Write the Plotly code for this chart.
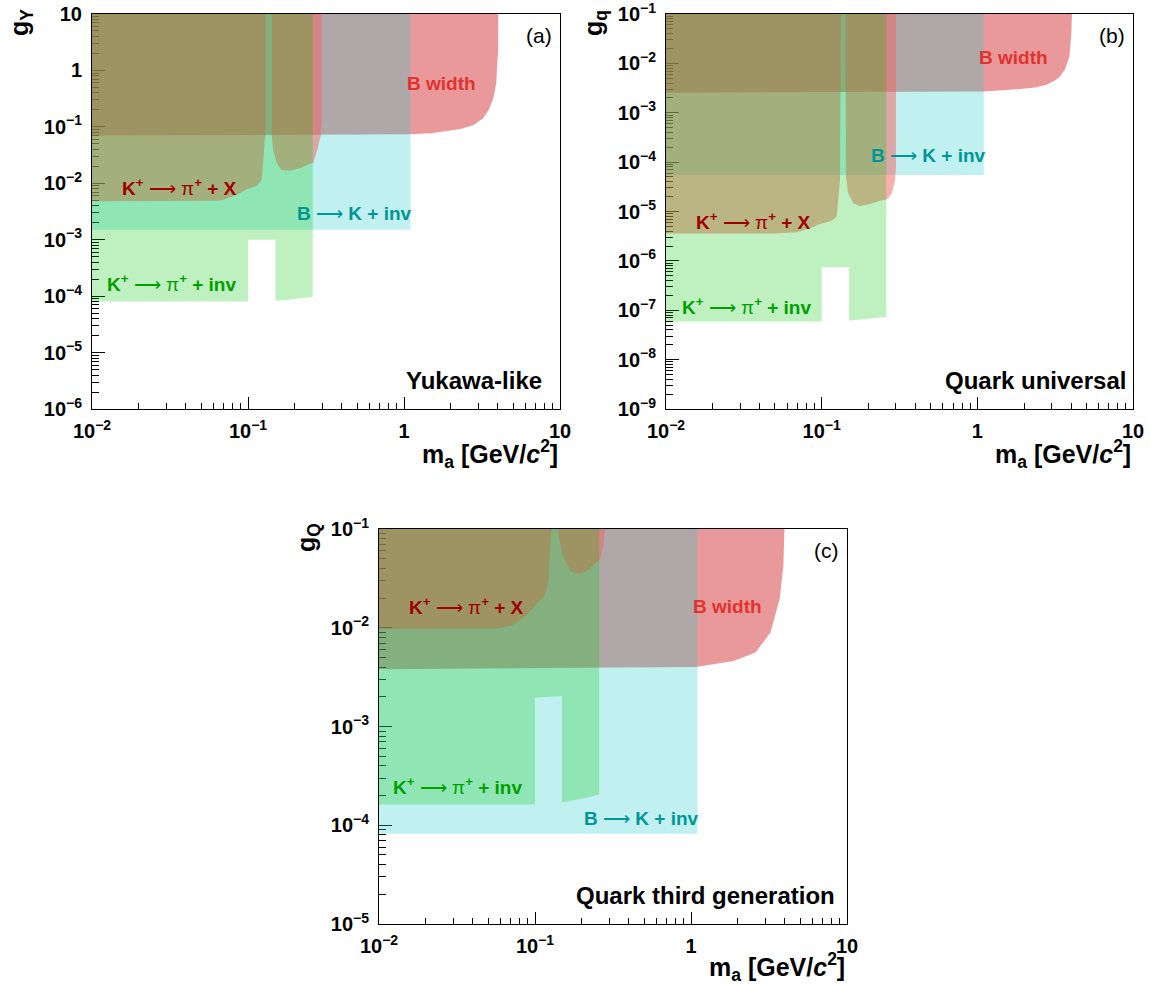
import plotly.graph_objects as go

# ---------------- panel (a): Yukawa-like, g_Y ----------------
a_bwidth_m = [0.01, 1.1, 1.5, 1.8, 2.3, 2.8, 3.2, 3.5, 3.75, 3.9, 3.98, 4.01, 4.02]
a_bwidth_g = [0.070, 0.074, 0.077, 0.082, 0.092, 0.108, 0.14, 0.20, 0.33, 0.59, 1.2, 2.3, 10]
a_bk_m = [0.01, 1.1]
a_bk_g = [1.5e-3, 10]
a_kx_left_m = [0.01, 0.04, 0.064, 0.0695, 0.0845, 0.098, 0.114, 0.1225, 0.1254, 0.1275, 0.13]
a_kx_left_g = [4.8e-3, 4.8e-3, 4.9e-3, 5.1e-3, 6.2e-3, 7.8e-3, 9.0e-3, 0.0114, 0.026, 0.058, 0.10]
a_kx_right_m = [0.142, 0.142, 0.145, 0.153, 0.164, 0.186, 0.215, 0.244, 0.262, 0.278, 0.292, 0.297]
a_kx_right_g = [10, 0.069, 0.039, 0.0226, 0.0172, 0.0167, 0.0184, 0.022, 0.0232, 0.0389, 0.069, 0.12]
a_kinv_m = [0.01, 0.1, 0.1, 0.15, 0.15, 0.2, 0.26]
a_kinv_g = [8.0e-5, 8.0e-5, 1.0e-3, 1.0e-3, 8.3e-5, 8.9e-5, 9.8e-5]

# ---------------- panel (b): quark universal, g_q ----------------
b_bwidth_m = [0.01, 1.1, 1.79, 2.3, 2.75, 3.15, 3.4, 3.65, 3.9, 4.02, 4.05]
b_bwidth_g = [2.55e-3, 2.7e-3, 2.98e-3, 3.2e-3, 3.65e-3, 4.5e-3, 5.4e-3, 7.5e-3, 0.0136, 0.041, 0.1]
b_bk_m = [0.01, 1.1]
b_bk_g = [5.5e-5, 0.1]
b_kx_left_m = [0.01, 0.05, 0.0691, 0.0841, 0.0975, 0.116, 0.125, 0.128, 0.1311, 0.133]
b_kx_left_g = [3.6e-6, 3.6e-6, 3.8e-6, 4.57e-6, 5.6e-6, 6.5e-6, 7.9e-6, 1.7e-5, 4.3e-5, 0.1]
b_kx_right_m = [0.142, 0.142, 0.1433, 0.148, 0.1597, 0.176, 0.204, 0.237, 0.264, 0.282, 0.296, 0.300]
b_kx_right_g = [0.1, 8.0e-5, 5.07e-5, 2.33e-5, 1.47e-5, 1.29e-5, 1.42e-5, 1.66e-5, 1.77e-5, 2.33e-5, 4.3e-5, 8.1e-5]
b_kinv_m = [0.01, 0.1, 0.1, 0.15, 0.15, 0.2, 0.26]
b_kinv_g = [5.9e-8, 5.9e-8, 7.4e-7, 7.4e-7, 6.15e-8, 6.7e-8, 7.4e-8]

# ---------------- panel (c): quark third generation, g_Q ----------------
c_bwidth_m = [0.01, 1.08, 1.87, 2.59, 3.23, 3.7, 3.91, 3.97]
c_bwidth_g = [3.8e-3, 4.0e-3, 4.6e-3, 5.6e-3, 8.95e-3, 0.0195, 0.0425, 0.1]
c_bk_m = [0.01, 1.1]
c_bk_g = [8.2e-5, 0.1]
c_kx_left_m = [0.01, 0.0565, 0.0704, 0.0876, 0.0977, 0.115, 0.1215, 0.125, 0.127]
c_kx_left_g = [9.7e-3, 9.8e-3, 0.0105, 0.0132, 0.016, 0.0211, 0.0288, 0.0626, 0.1]
c_kx_right_m = [0.1416, 0.143, 0.151, 0.169, 0.188, 0.210, 0.234, 0.254, 0.261, 0.268, 0.276, 0.281]
c_kx_right_g = [0.1, 0.079, 0.0537, 0.0378, 0.035, 0.0369, 0.0425, 0.0477, 0.0497, 0.0557, 0.0732, 0.1]
c_kinv_m = [0.01, 0.1, 0.1, 0.149, 0.149, 0.2, 0.258]
c_kinv_g = [1.62e-4, 1.62e-4, 1.96e-3, 2.04e-3, 1.71e-4, 1.85e-4, 2.05e-4]

# axis ranges (decades)
x_decades = [-2, 1]
a_y_decades = [-6, 1]
b_y_decades = [-9, -1]
c_y_decades = [-5, -1]

# fill styles; drawing order gives the overlap tints
COL_BWIDTH = "rgba(200,0,0,0.40)"
COL_BK = "rgba(45,205,205,0.30)"
COL_KX = "rgba(245,95,95,0.50)"
COL_KINV = "rgba(0,195,0,0.25)"

TXT_KX = "rgb(160,0,0)"
TXT_BK = "rgb(0,150,150)"
TXT_KINV = "rgb(0,160,0)"
TXT_BW = "rgb(225,50,50)"

FONT = "Liberation Sans, Arial, Helvetica, sans-serif"

fig = go.Figure()


def add_fill(xs, ys, color, xa, ya):
    fig.add_trace(go.Scatter(
        x=xs, y=ys, mode="lines", fill="toself", fillcolor=color,
        line=dict(width=0, color=color), hoverinfo="skip", showlegend=False,
        xaxis=xa, yaxis=ya))


def add_panel(xa, ya, top, bw_m, bw_g, bk_m, bk_g, kxl_m, kxl_g, kxr_m, kxr_g, ki_m, ki_g):
    # B width: lower boundary curve closed along the top edge
    add_fill(bw_m + [bw_m[0]], bw_g + [top], COL_BWIDTH, xa, ya)
    # B -> K + inv: rectangle up to the top edge
    add_fill([bk_m[0], bk_m[1], bk_m[1], bk_m[0]], [bk_g[0], bk_g[0], top, top], COL_BK, xa, ya)
    # K+ -> pi+ + X: two pieces around the pi0 mass
    add_fill(kxl_m + [kxl_m[-1], kxl_m[0]], kxl_g + [top, top], COL_KX, xa, ya)
    add_fill(kxr_m + [kxr_m[-1], kxr_m[0]], kxr_g + [top, top], COL_KX, xa, ya)
    # K+ -> pi+ + inv
    add_fill(ki_m + [ki_m[-1], ki_m[0]], ki_g + [top, top], COL_KINV, xa, ya)


add_panel("x", "y", 10 ** a_y_decades[1], a_bwidth_m, a_bwidth_g, a_bk_m, a_bk_g,
          a_kx_left_m, a_kx_left_g, a_kx_right_m, a_kx_right_g, a_kinv_m, a_kinv_g)
add_panel("x2", "y2", 10 ** b_y_decades[1], b_bwidth_m, b_bwidth_g, b_bk_m, b_bk_g,
          b_kx_left_m, b_kx_left_g, b_kx_right_m, b_kx_right_g, b_kinv_m, b_kinv_g)
add_panel("x3", "y3", 10 ** c_y_decades[1], c_bwidth_m, c_bwidth_g, c_bk_m, c_bk_g,
          c_kx_left_m, c_kx_left_g, c_kx_right_m, c_kx_right_g, c_kinv_m, c_kinv_g)


def pow_label(e):
    if e == 0:
        return "1"
    if e == 1:
        return "10"
    return "10<sup>\u2212%d</sup>" % (-e)


def log_axis(decades, domain, anchor, is_x):
    lo, hi = decades
    majors = [10.0 ** e for e in range(lo, hi + 1)]
    minors = [k * 10.0 ** e for e in range(lo, hi) for k in range(2, 10)]
    return dict(
        type="log", range=[lo, hi], domain=domain, anchor=anchor, automargin=False,
        tickmode="array", tickvals=majors, ticktext=[pow_label(e) for e in range(lo, hi + 1)],
        ticks="inside", ticklen=12 if is_x else 13, tickwidth=1, tickcolor="black",
        minor=dict(tickmode="array", tickvals=minors, ticks="inside",
                   ticklen=6 if is_x else 7, tickwidth=1, tickcolor="black"),
        showline=True, linecolor="black", linewidth=1, mirror=True,
        showgrid=False, zeroline=False, layer="below traces",
        tickfont=dict(family=FONT, size=20, color="black", weight="bold"),
        ticklabelstandoff=4 if is_x else 5, ticklabeloverflow="allow",
    )


W, H = 1151, 984
# plot frames in pixels: (left, right, top, bottom)
frames = {
    "a": (92, 560, 14, 409),
    "b": (666, 1133, 14, 409),
    "c": (379, 847, 529, 924),
}


def dom_x(f):
    return [f[0] / W, f[1] / W]


def dom_y(f):
    return [1 - f[3] / H, 1 - f[2] / H]


fig.update_layout(
    width=W, height=H, margin=dict(l=0, r=0, t=0, b=0, pad=0, autoexpand=False),
    paper_bgcolor="white", plot_bgcolor="white", showlegend=False,
    xaxis=log_axis(x_decades, dom_x(frames["a"]), "y", True),
    yaxis=log_axis(a_y_decades, dom_y(frames["a"]), "x", False),
    xaxis2=log_axis(x_decades, dom_x(frames["b"]), "y2", True),
    yaxis2=log_axis(b_y_decades, dom_y(frames["b"]), "x2", False),
    xaxis3=log_axis(x_decades, dom_x(frames["c"]), "y3", True),
    yaxis3=log_axis(c_y_decades, dom_y(frames["c"]), "x3", False),
)

ARROW = "\u00a0\u27f6\u00a0"
LBL_KX = "<b>K<sup>+</sup></b>" + ARROW + "\u03c0<b><sup>+</sup> + X</b>"
LBL_KINV = "<b>K<sup>+</sup></b>" + ARROW + "\u03c0<b><sup>+</sup> + inv</b>"
LBL_BK = "<b>B</b>" + ARROW + "<b>K + inv</b>"
LBL_BW = "<b>B width</b>"
XTITLE = "<b>m<sub>a</sub> [GeV/<i>c</i><sup>2</sup>]</b>"

annotations = []


def note(xr, yr, x, y, text, color, size, xanchor="left", yanchor="middle", angle=0):
    annotations.append(dict(
        xref=xr, yref=yr, x=x, y=y, text=text, showarrow=False,
        xanchor=xanchor, yanchor=yanchor, textangle=angle,
        font=dict(family=FONT, size=size, color=color)))


panel_text = [
    # (axis suffix, frame, label positions, panel tag, model name, y-title, x-title offset)
    ("", frames["a"],
     dict(kx=(0.060, 0.562), bk=(0.434, 0.496), kinv=(0.028, 0.319), bw=(0.669, 0.825)),
     "(a)", "Yukawa-like", 0.966, "g<sub>Y</sub>", 45),
    ("2", frames["b"],
     dict(kx=(0.061, 0.475), bk=(0.435, 0.643), kinv=(0.030, 0.261), bw=(0.667, 0.890)),
     "(b)", "Quark universal", 0.990, "g<sub>q</sub>", 45),
    ("3", frames["c"],
     dict(kx=(0.059, 0.805), bk=(0.433, 0.268), kinv=(0.025, 0.349), bw=(0.666, 0.805)),
     "(c)", "Quark third generation", 0.979, "g<sub>Q</sub>", 43),
]

for suf, fr, pos, tag, model, model_x, ytitle, xt_off in panel_text:
    xr, yr = "x%s domain" % suf, "y%s domain" % suf
    h = fr[3] - fr[2]
    w = fr[1] - fr[0]
    note(xr, yr, pos["kx"][0], pos["kx"][1], LBL_KX, TXT_KX, 19)
    note(xr, yr, pos["bk"][0], pos["bk"][1], LBL_BK, TXT_BK, 19)
    note(xr, yr, pos["kinv"][0], pos["kinv"][1], LBL_KINV, TXT_KINV, 19)
    note(xr, yr, pos["bw"][0], pos["bw"][1], LBL_BW, TXT_BW, 19)
    note(xr, yr, 0.987, 1 - 21 / h, tag, "black", 21, xanchor="right")
    note(xr, yr, model_x, 1 - 366 / h, "<b>%s</b>" % model, "black", 24, xanchor="right")
    # axis titles
    note(xr, yr, 1.0, -xt_off / h, XTITLE, "black", 25, xanchor="right")
    note(xr, yr, -71 / w, 1 - 9 / h, "<b>%s</b>" % ytitle, "black", 25,
         xanchor="center", yanchor="middle", angle=-90)

fig.update_layout(annotations=annotations)

fig.write_html("out.html")
